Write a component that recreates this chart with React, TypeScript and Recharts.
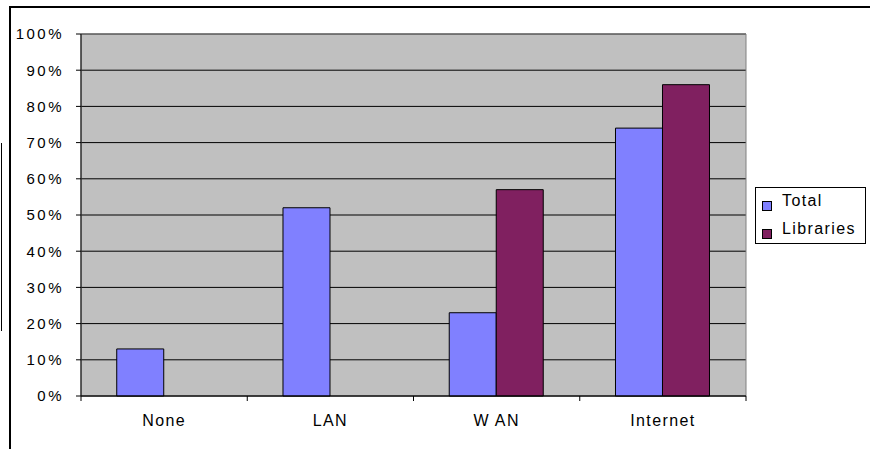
import React from 'react';
import {
  BarChart,
  Bar,
  XAxis,
  YAxis,
  CartesianGrid,
  ReferenceArea,
} from 'recharts';

// Network access categories and shares (fractions of 1)
const categories = ['None', 'LAN', 'W AN', 'Internet'];
const totalValues = [0.13, 0.52, 0.23, 0.74];
const libraryValues = [0, 0, 0.57, 0.86];
const yTicks = [0, 0.1, 0.2, 0.3, 0.4, 0.5, 0.6, 0.7, 0.8, 0.9, 1];
const seriesNames = ['Total', 'Libraries'];

const data = categories.map((name, i) => ({
  name,
  total: totalValues[i],
  libraries: libraryValues[i],
}));

const W = 870;
const H = 449;
const PLOT_LEFT = 81;
const PLOT_RIGHT = 746;
const PLOT_BOTTOM = 396;
const BAND = (PLOT_RIGHT - PLOT_LEFT) / categories.length;

const FONT = '"Liberation Sans", Arial, sans-serif';
const TOTAL_COLOR = '#8080FF';
const LIB_COLOR = '#802060';
const COLORS = [TOTAL_COLOR, LIB_COLOR];

// x-axis tick: label centred, tick marks on category boundaries (Excel style)
const CategoryTick = (props: any) => {
  const { x, payload, index } = props;
  const left = x - BAND / 2;
  const right = x + BAND / 2;
  return (
    <g>
      <line x1={left} y1={PLOT_BOTTOM} x2={left} y2={PLOT_BOTTOM + 5} stroke="#000" />
      {index === categories.length - 1 && (
        <line x1={right} y1={PLOT_BOTTOM} x2={right} y2={PLOT_BOTTOM + 5} stroke="#000" />
      )}
      <text
        x={x}
        y={PLOT_BOTTOM + 30}
        textAnchor="middle"
        fontSize={16}
        letterSpacing={1.4}
        fontFamily={FONT}
        fill="#000"
      >
        {payload.value}
      </text>
    </g>
  );
};

const LegendBox = () => (
  <div
    style={{
      position: 'absolute',
      left: 755,
      top: 187,
      width: 111,
      height: 57,
      border: '1px solid #000',
      background: '#fff',
      boxSizing: 'border-box',
    }}
  >
    {seriesNames.map((label, i) => (
      <React.Fragment key={label}>
        <span
          style={{
            position: 'absolute',
            left: 6,
            top: 13 + i * 28,
            width: 8,
            height: 8,
            background: COLORS[i],
            border: '1px solid #000',
          }}
        />
        <span
          style={{
            position: 'absolute',
            left: 26,
            top: 3 + i * 28,
            fontFamily: FONT,
            fontSize: 16,
            letterSpacing: 1.4,
            lineHeight: '20px',
            whiteSpace: 'nowrap',
          }}
        >
          {label}
        </span>
      </React.Fragment>
    ))}
  </div>
);

export default function App() {
  return (
    <div style={{ position: 'absolute', left: 0, top: 0, width: W, height: H, background: '#fff', overflow: 'hidden' }}>
      <div style={{ position: 'absolute', left: 0, top: 0 }}>
        <BarChart
          width={W}
          height={H}
          data={data}
          margin={{ top: 34, right: W - PLOT_RIGHT, bottom: H - PLOT_BOTTOM - 30, left: PLOT_LEFT - 70 }}
          barCategoryGap="21.5%"
          barGap={0}
        >
          <CartesianGrid
            fill="#C0C0C0"
            fillOpacity={1}
            stroke="#000"
            vertical={false}
          />
          <ReferenceArea y1={0} y2={1} fill="none" stroke="#808080" strokeWidth={1} ifOverflow="visible" />
          <XAxis
            dataKey="name"
            axisLine={{ stroke: '#000' }}
            tickLine={false}
            tick={<CategoryTick />}
            interval={0}
            height={30}
          />
          <YAxis
            domain={[0, 1]}
            ticks={yTicks}
            width={70}
            tickFormatter={(v: number) => `${Math.round(v * 100)}%`}
            axisLine={{ stroke: '#000' }}
            tickLine={{ stroke: '#000' }}
            tickSize={5}
            tickMargin={12}
            tick={{ fontSize: 15, fill: '#000', fontFamily: FONT, letterSpacing: 2.5 }}
          />
          <Bar dataKey="total" fill={TOTAL_COLOR} stroke="#000" strokeWidth={1} isAnimationActive={false} />
          <Bar dataKey="libraries" fill={LIB_COLOR} stroke="#000" strokeWidth={1} isAnimationActive={false} />
        </BarChart>
      </div>
      <LegendBox />
      {/* outer frame lines, drawn on top */}
      <svg width={W} height={H} style={{ position: 'absolute', left: 0, top: 0, pointerEvents: 'none' }}>
        <rect x={9} y={6} width={2} height={H - 6} fill="#000" />
        <rect x={9} y={6} width={W - 9} height={2} fill="#000" />
        <rect x={1} y={143} width={1} height={188} fill="#000" />
      </svg>
    </div>
  );
}
